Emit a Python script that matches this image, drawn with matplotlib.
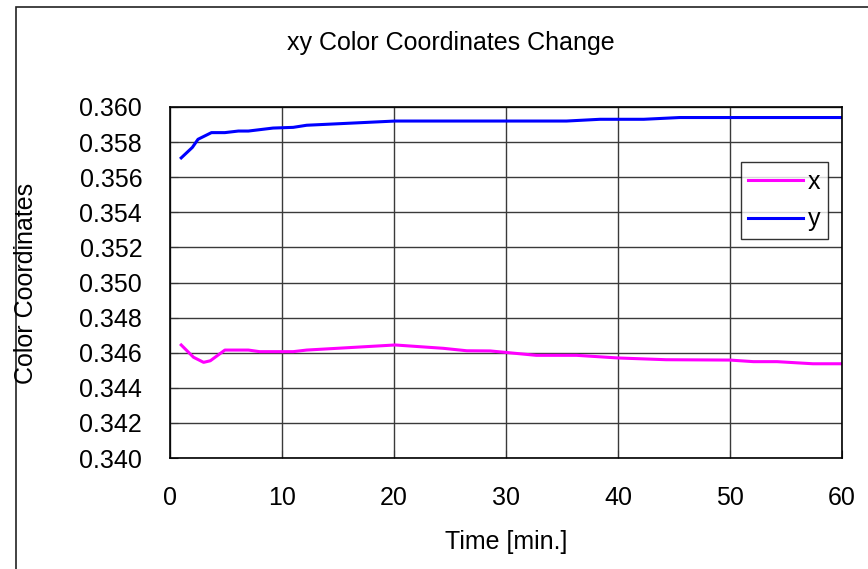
import matplotlib.pyplot as plt
from matplotlib.patches import Rectangle

plt.rcParams['font.family'] = ['Liberation Sans', 'DejaVu Sans']

# time [min] and color coordinates
t_y = [1, 2, 2.5, 3.7, 4.9, 6.1, 7, 9.2, 11, 12.2, 20.1, 35.4, 38.4, 42.3, 45.5, 60]
y_vals = [0.3571, 0.3577, 0.35816, 0.35854, 0.35854, 0.35863, 0.35863, 0.3588,
          0.35884, 0.35896, 0.3592, 0.3592, 0.3593, 0.3593, 0.3594, 0.3594]

t_x = [1, 2.1, 3.0, 3.6, 4.9, 7, 8, 11, 12.2, 20.1, 24.4, 26.5, 28.6, 32.7,
       36.3, 40, 44.3, 50, 52.1, 54.2, 57.4, 60]
x_vals = [0.34644, 0.34574, 0.34545, 0.34554, 0.34615, 0.34615, 0.34606, 0.34606,
          0.34615, 0.34644, 0.34625, 0.34611, 0.3461, 0.34585, 0.34585, 0.3457,
          0.3456, 0.34558, 0.34549, 0.34549, 0.34537, 0.34537]

fig = plt.figure(figsize=(8.68, 5.69), dpi=100)
ax = fig.add_axes([170 / 868, 1 - 458 / 569, 672 / 868, 351 / 569])

# outer chart frame
fig.patches.append(Rectangle((16 / 868, -0.1), 1.0, 1.1 - 7 / 569,
                             transform=fig.transFigure, fill=False,
                             edgecolor='#222222', linewidth=1.2))

ax.plot(t_x, x_vals, color='#FF00FF', linewidth=2.2, label='x')
ax.plot(t_y, y_vals, color='#0000FF', linewidth=2.2, label='y')

ax.set_xlim(0, 60)
ax.set_ylim(0.340, 0.360)
ax.set_xticks(range(0, 61, 10))
ax.set_yticks([0.340 + 0.002 * i for i in range(11)])
ax.set_yticklabels(['%.3f' % (0.340 + 0.002 * i) for i in range(11)])
ax.grid(True, color='#3a3a3a', linewidth=1)
ax.tick_params(axis='both', labelsize=18, direction='in', length=6,
               color='#333333')
ax.tick_params(axis='x', pad=20)
ax.tick_params(axis='y', pad=20)
for s in ax.spines.values():
    s.set_color('black')
    s.set_linewidth(1.2)

fig.text(451 / 868, 1 - 43 / 569, 'xy Color Coordinates Change', fontsize=18,
         ha='center', va='center')
fig.text(506 / 868, 1 - 542 / 569, 'Time [min.]', fontsize=18,
         ha='center', va='center')
fig.text(26 / 868, 1 - 283 / 569, 'Color Coordinates', fontsize=18,
         ha='center', va='center', rotation=90)

leg = ax.legend(loc='upper left', bbox_to_anchor=(0.849, 0.843), fontsize=18,
                frameon=True, fancybox=False, edgecolor='black',
                handlelength=2.2, handletextpad=0.2, borderpad=0.3,
                borderaxespad=0, labelspacing=0.55)
leg.get_frame().set_linewidth(1)

fig.savefig('out.png', dpi=100)
